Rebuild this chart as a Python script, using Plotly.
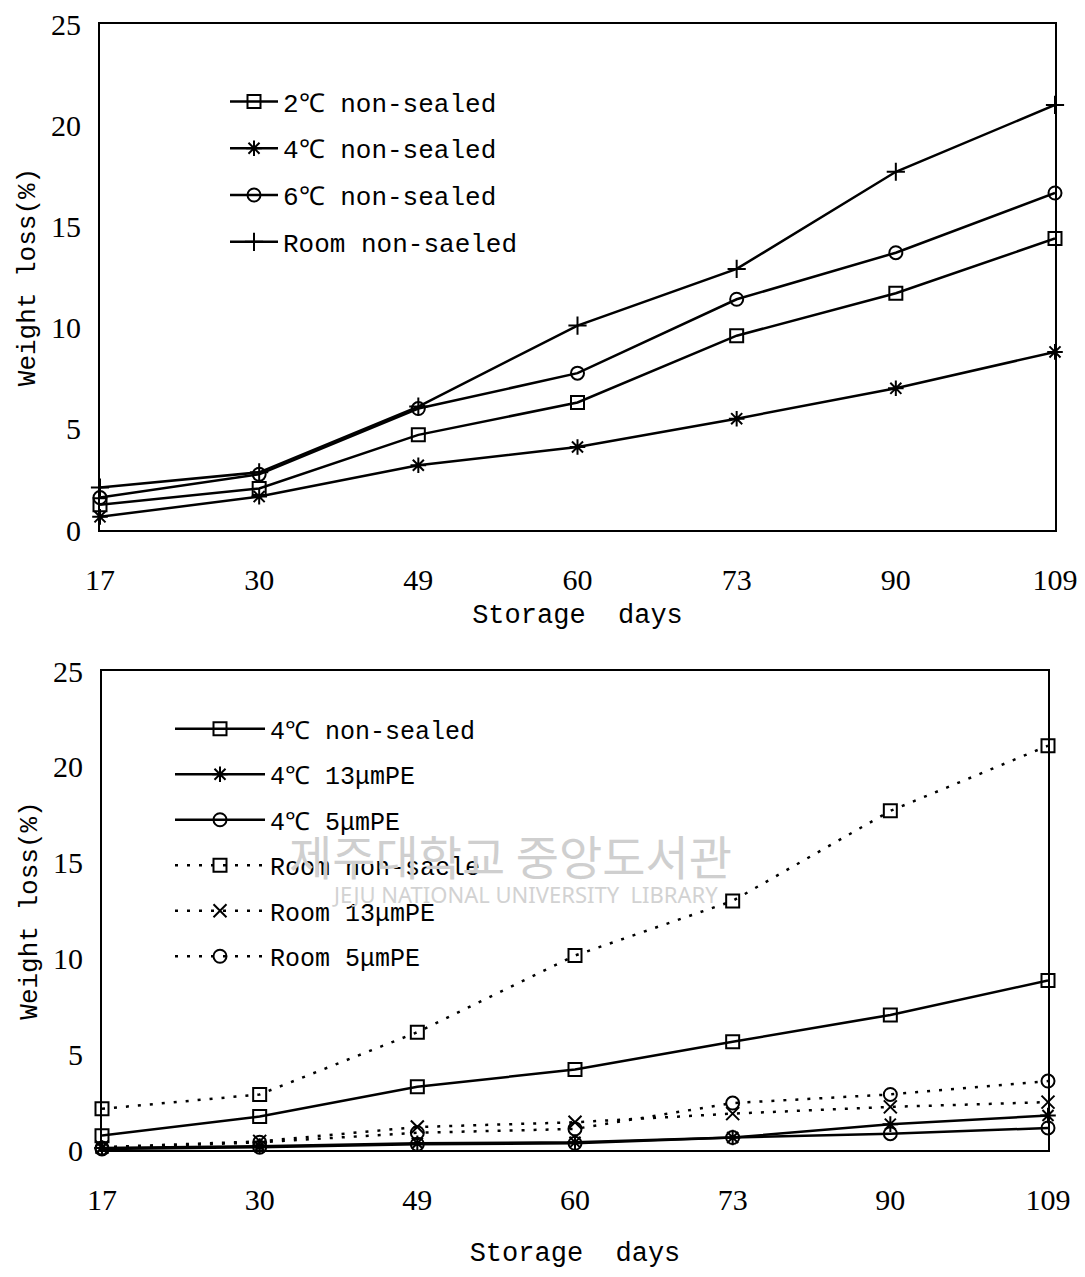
import plotly.graph_objects as go

days = ["17", "30", "49", "60", "73", "90", "109"]
y_ticks = [0, 5, 10, 15, 20, 25]

# Top chart: non-sealed storage at different temperatures
t2_nonsealed = [1.25, 2.05, 4.7, 6.3, 9.6, 11.7, 14.4]
t4_nonsealed = [0.65, 1.65, 3.2, 4.1, 5.5, 7.0, 8.8]
t6_nonsealed = [1.6, 2.75, 6.0, 7.75, 11.4, 13.7, 16.65]
room_nonsealed = [2.1, 2.85, 6.1, 10.1, 12.9, 17.7, 21.0]

# Bottom chart: 4°C vs room, packaging
b4_nonsealed = [0.75, 1.75, 3.3, 4.2, 5.65, 7.05, 8.85]
b4_pe13 = [0.1, 0.2, 0.35, 0.4, 0.65, 1.35, 1.8]
b4_pe5 = [0.05, 0.15, 0.3, 0.35, 0.65, 0.85, 1.15]
broom_nonsealed = [2.15, 2.9, 6.15, 10.15, 13.0, 17.7, 21.1]
broom_pe13 = [0.15, 0.45, 1.2, 1.45, 1.9, 2.25, 2.5]
broom_pe5 = [0.1, 0.4, 0.9, 1.1, 2.45, 2.9, 3.6]

# page body has an 8px margin; figure sized so the page fits the window
OFF = 8
W, H = 1085 - 2 * OFF, 1277 - 2 * OFF
mono = "Liberation Mono"
serif = "Liberation Serif"


def px(x):
    return (x - OFF) / W


def py(y):
    return 1 - (y - OFF) / H


fig = go.Figure()


def add(y, name, symbol, xa, ya, legend, dash="solid", group=None):
    fig.add_trace(go.Scatter(
        x=days, y=y, name=name, mode="lines+markers",
        xaxis=xa, yaxis=ya, legend=legend, legendgroup=group or name,
        cliponaxis=False,
        line=dict(color="black", width=2.5, dash=dash),
        marker=dict(symbol=symbol, size=13, color="black",
                    line=dict(color="black", width=2)),
    ))


add(t2_nonsealed, "2℃ non-sealed", "square-open", "x", "y", "legend")
add(t4_nonsealed, "4℃ non-sealed", "asterisk-open", "x", "y", "legend")
add(t6_nonsealed, "6℃ non-sealed", "circle-open", "x", "y", "legend")
add(room_nonsealed, "Room non-saeled", "cross-thin-open", "x", "y", "legend")

dotted = "3px,9px"
add(b4_nonsealed, "4℃ non-sealed", "square-open", "x2", "y2", "legend2", group="b1")
add(b4_pe13, "4℃ 13μmPE", "asterisk-open", "x2", "y2", "legend2", group="b2")
add(b4_pe5, "4℃ 5μmPE", "circle-open", "x2", "y2", "legend2", group="b3")
add(broom_nonsealed, "Room non-saele", "square-open", "x2", "y2", "legend2", dash=dotted, group="b4")
add(broom_pe13, "Room 13μmPE", "x-thin-open", "x2", "y2", "legend2", dash=dotted, group="b5")
add(broom_pe5, "Room 5μmPE", "circle-open", "x2", "y2", "legend2", dash=dotted, group="b6")


def xaxis(domain, anchor, standoff):
    return dict(domain=domain, anchor=anchor, type="category", range=[0, 6],
                automargin=False, ticklabeloverflow="allow",
                showline=True, linecolor="black", linewidth=2, mirror=True,
                showgrid=False, zeroline=False, ticks="",
                ticklabelstandoff=22,
                tickfont=dict(family=serif, size=30, color="black"),
                title=dict(text="Storage\u00a0\u00a0days", standoff=standoff,
                           font=dict(family=mono, size=27, color="black")))


def yaxis(domain, anchor):
    return dict(domain=domain, anchor=anchor, range=[0, 25], tickvals=y_ticks,
                automargin=False, ticklabeloverflow="allow",
                showline=True, linecolor="black", linewidth=2, mirror=True,
                showgrid=False, zeroline=False, ticks="",
                ticklabelstandoff=11,
                tickfont=dict(family=serif, size=30, color="black"),
                title=dict(text="Weight loss(%)", standoff=8,
                           font=dict(family=mono, size=26, color="black")))


fig.update_layout(
    width=W, height=H, autosize=False,
    template="none",
    margin=dict(l=0, r=0, t=0, b=0, pad=0),
    paper_bgcolor="white", plot_bgcolor="white",
    xaxis=xaxis([px(100), px(1055)], "y", 9),
    yaxis=yaxis([py(530), py(24)], "x"),
    xaxis2=xaxis([px(102), px(1048)], "y2", 32),
    yaxis2=yaxis([py(1150), py(671)], "x2"),
    legend=dict(x=px(225), y=py(78), xanchor="left", yanchor="top",
                bgcolor="rgba(0,0,0,0)", itemwidth=48, tracegroupgap=10,
                traceorder="grouped", borderwidth=0,
                font=dict(family=mono, size=26, color="black")),
    legend2=dict(x=px(170), y=py(706), xanchor="left", yanchor="top",
                 bgcolor="rgba(0,0,0,0)", itemwidth=90, tracegroupgap=10,
                 traceorder="grouped", borderwidth=0,
                 font=dict(family=mono, size=25, color="black")),
    showlegend=True,
)

# watermark of the library scan
fig.add_annotation(text="제주대학교 중앙도서관", x=px(510), y=py(855),
                   xref="paper", yref="paper", showarrow=False,
                   xanchor="center", yanchor="middle",
                   font=dict(family="Noto Sans CJK KR", size=47, color="#cfcfcf"))
fig.add_annotation(text="JEJU NATIONAL UNIVERSITY  LIBRARY", x=px(525), y=py(894),
                   xref="paper", yref="paper", showarrow=False,
                   xanchor="center", yanchor="middle",
                   font=dict(family="Noto Sans", size=22, color="#d2d2d2"))

fig.write_html("out.html")
